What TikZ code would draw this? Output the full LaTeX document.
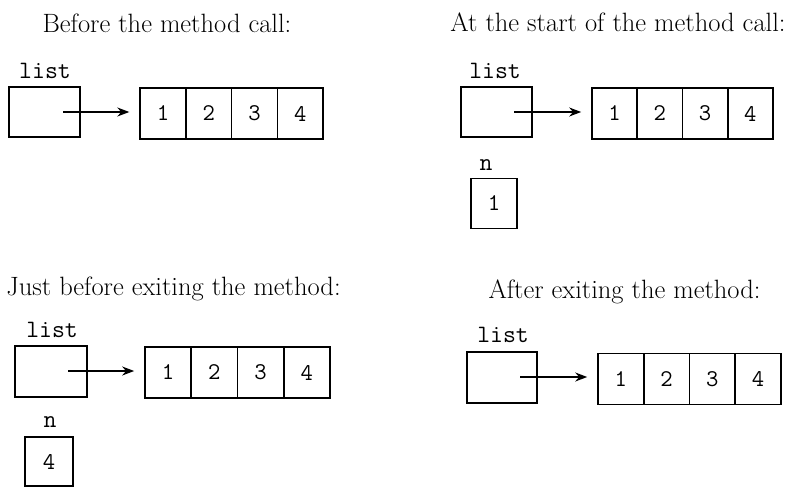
\documentclass[tikz,border=0pt]{standalone}
\usetikzlibrary{arrows.meta}
\begin{document}
\begin{tikzpicture}[x=1pt,y=-1pt,
  title/.style={anchor=base,inner sep=0pt,font=\fontsize{26.5}{30}\selectfont},
  varlabel/.style={anchor=base,inner sep=0pt,font=\fontsize{25}{28}\ttfamily},
  varbox/.style={draw,line width=2pt,minimum width=71pt,minimum height=50pt,inner sep=0pt},
  cell/.style={draw,line width=1.6pt,minimum width=45.75pt,minimum height=51pt,inner sep=0pt,font=\fontsize{24}{27}\ttfamily},
  nbox/.style={draw,line width=1.8pt,minimum width=46pt,minimum height=50pt,inner sep=0pt,font=\fontsize{24}{27}\ttfamily},
  ptr/.style={line width=1.6pt,-{Stealth[length=12pt,width=9pt]},shorten >=10pt}]
\useasboundingbox (0,0) rectangle (789,487);
% Panel 1
\node[title] (t1) at (167,33) {Before the method call:};
\node[varlabel] (l1) at (45,78) {list};
\node[varbox] (b1) at (44.5,112) {};
\coordinate (s1) at (63,112);
\node[cell] (a1c1) at (163,113.5) {1};
\node[cell] (a1c2) at (208.75,113.5) {2};
\node[cell] (a1c3) at (254.5,113.5) {3};
\node[cell] (a1c4) at (300.25,113.5) {4};
\draw[ptr] (s1) -- (s1 -| a1c1.west);
% Panel 2
\node[title] (t2) at (618,32) {At the start of the method call:};
\node[varlabel] (l2) at (495,78) {list};
\node[varbox] (b2) at (496,112) {};
\coordinate (s2) at (514,112);
\node[cell,minimum width=45.25pt] (a2c1) at (614.6,113.5) {1};
\node[cell,minimum width=45.25pt] (a2c2) at (659.9,113.5) {2};
\node[cell,minimum width=45.25pt] (a2c3) at (705.1,113.5) {3};
\node[cell,minimum width=45.25pt] (a2c4) at (750.4,113.5) {4};
\draw[ptr] (s2) -- (s2 -| a2c1.west);
\node[varlabel] (n2) at (486,170) {n};
\node[nbox] (nb2) at (494,203.5) {1};
% Panel 3
\node[title] (t3) at (173.5,295) {Just before exiting the method:};
\node[varlabel] (l3) at (52,337) {list};
\node[varbox,minimum width=72pt,minimum height=51pt] (b3) at (51,371.5) {};
\coordinate (s3) at (68,371);
\node[cell,minimum width=46.25pt] (a3c1) at (168.1,372.5) {1};
\node[cell,minimum width=46.25pt] (a3c2) at (214.4,372.5) {2};
\node[cell,minimum width=46.25pt] (a3c3) at (260.6,372.5) {3};
\node[cell,minimum width=46.25pt] (a3c4) at (306.9,372.5) {4};
\draw[ptr] (s3) -- (s3 -| a3c1.west);
\node[varlabel] (n3) at (50,427) {n};
\node[nbox,minimum width=48pt,minimum height=49pt] (nb3) at (49,461.5) {4};
% Panel 4
\node[title] (t4) at (624.5,298) {After exiting the method:};
\node[varlabel] (l4) at (503,342) {list};
\node[varbox,minimum width=70pt,minimum height=51pt] (b4) at (502,377.5) {};
\coordinate (s4) at (520,377);
\node[cell] (a4c1) at (620.9,379) {1};
\node[cell] (a4c2) at (666.6,379) {2};
\node[cell] (a4c3) at (712.4,379) {3};
\node[cell] (a4c4) at (758.1,379) {4};
\draw[ptr] (s4) -- (s4 -| a4c1.west);
\end{tikzpicture}
\end{document}
